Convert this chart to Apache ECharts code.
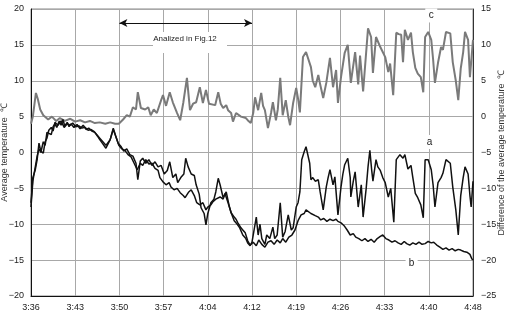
<!DOCTYPE html>
<html>
<head>
<meta charset="utf-8">
<script src="https://cdn.jsdelivr.net/npm/echarts@6/dist/echarts.min.js"></script>
<style>
html,body{margin:0;padding:0;background:#fff;}
#chart{width:508px;height:315px;}
</style>
</head>
<body>
<div id="chart"></div>
<script>
// x values: minutes elapsed since 3:36
const tickLabels = ['3:36','3:43','3:50','3:57','4:04','4:12','4:19','4:26','4:33','4:40','4:48'];

// series a: average temperature (left axis, noisy curve)
const seriesA = [
[0.0,-7.6],[0.3,-4.0],[0.7,-2.0],[1.0,-0.5],[1.3,0.5],[1.6,0.0],[2.0,1.5],[2.3,1.0],[2.6,2.8],[2.9,3.0],
[3.3,2.5],[3.6,3.6],[3.9,4.0],[4.2,3.5],[4.6,4.4],[4.9,3.8],[5.2,4.6],[5.5,3.7],[5.9,4.2],[6.2,3.6],
[6.5,4.0],[7.0,3.5],[7.5,3.9],[8.0,3.3],[8.5,3.8],[9.0,3.2],[9.4,3.4],[9.9,3.0],[10.4,2.8],[10.9,2.2],
[11.2,1.8],[11.7,1.2],[12.2,0.6],[12.5,0.8],[12.9,1.8],[13.4,3.2],[13.7,2.5],[14.2,1.3],[14.7,0.8],[15.1,0.2],
[15.6,0.5],[16.1,-0.3],[16.6,-0.5],[17.1,-1.5],[17.4,-3.8],[17.8,-1.2],[18.2,-0.8],[18.7,-1.5],[19.2,-1.0],[19.7,-1.8],
[20.2,-1.3],[20.7,-2.0],[21.2,-1.8],[21.7,-3.0],[22.2,-2.5],[22.6,-1.3],[23.1,-3.5],[23.6,-3.0],[23.9,-4.2],[24.4,-3.5],
[24.9,-3.0],[25.2,-0.8],[25.6,-2.0],[26.1,-3.0],[26.6,-3.2],[26.9,-4.5],[27.4,-5.8],[27.7,-7.7],[28.2,-8.5],[28.5,-10.1],
[28.8,-8.5],[29.3,-7.0],[29.8,-6.5],[30.1,-5.5],[30.5,-3.6],[30.8,-4.5],[31.3,-6.3],[31.8,-5.5],[32.3,-7.5],[32.6,-8.4],
[33.1,-9.5],[33.6,-10.0],[34.0,-10.5],[34.5,-11.5],[35.0,-12.0],[35.3,-12.6],[35.7,-13.0],[36.0,-12.5],[36.3,-11.0],[36.7,-9.0],
[37.0,-11.5],[37.3,-10.0],[37.6,-12.0],[38.1,-12.8],[38.4,-11.5],[38.9,-12.0],[39.4,-10.4],[39.7,-12.0],[40.1,-11.5],[40.6,-7.0],
[41.0,-11.8],[41.4,-11.0],[41.9,-8.7],[42.4,-10.8],[42.7,-10.5],[43.2,-7.6],[43.5,-7.0],[43.8,-5.5],[44.1,-1.0],[44.5,0.1],
[44.8,0.8],[45.1,0.6],[45.4,-1.5],[45.6,-3.8],[45.9,-3.5],[46.3,-4.0],[46.8,-3.8],[47.1,-5.5],[47.6,-8.0],[48.1,-4.8],
[48.4,-3.5],[48.7,-2.4],[49.2,-4.5],[49.5,-3.4],[50.0,-8.7],[50.5,-4.8],[50.8,-3.0],[51.1,-1.7],[51.6,-0.8],[52.0,-3.5],
[52.1,-6.2],[52.5,-4.0],[52.8,-2.7],[53.3,-7.6],[53.8,-4.5],[54.1,-9.0],[54.6,-5.0],[54.9,-2.0],[55.2,0.3],[55.5,-2.5],
[55.7,-4.0],[56.2,-1.0],[56.5,-2.0],[56.9,-2.5],[57.3,-3.5],[57.7,-4.2],[58.2,-6.2],[58.6,-5.0],[59.1,-9.7],[59.5,-1.0],
[60.1,-0.3],[60.6,-0.8],[60.9,-0.3],[61.4,-2.3],[61.9,-1.8],[62.2,-3.5],[62.6,-5.7],[63.0,-6.3],[63.5,-7.3],[63.9,-9.1],
[64.2,-1.0],[64.7,-1.0],[65.2,-2.4],[65.5,-4.5],[65.8,-7.6],[66.3,-4.2],[66.8,-3.5],[67.1,-2.9],[67.6,-1.0],[68.3,-1.5],
[68.7,-4.8],[69.2,-8.0],[69.6,-11.5],[70.0,-6.0],[70.4,-3.5],[70.7,-2.0],[71.2,-3.0],[71.5,-6.0],[71.7,-7.6],[72.0,-4.0]
];

// series b: average temperature (left axis, smoother curve)
const seriesB = [
[0.0,-7.0],[0.3,-3.5],[0.7,-2.4],[1.0,-1.0],[1.3,1.3],[1.6,0.2],[2.0,-0.1],[2.3,1.5],[2.6,2.0],[2.9,3.1],
[3.3,3.5],[3.6,3.0],[3.9,4.2],[4.4,3.8],[4.9,4.4],[5.4,3.5],[5.9,4.0],[6.4,3.8],[6.8,4.1],[7.3,3.6],
[7.8,3.7],[8.3,3.4],[8.8,3.5],[9.3,3.1],[9.8,3.2],[10.3,2.9],[10.8,2.4],[11.2,2.0],[11.7,1.5],[12.2,1.0],
[12.5,1.2],[12.9,1.8],[13.4,3.4],[13.8,2.3],[14.3,1.0],[14.8,0.5],[15.3,0.3],[15.8,-0.3],[16.3,-0.6],[16.8,-1.5],
[17.3,-2.4],[17.8,-1.5],[18.2,-1.8],[18.7,-1.0],[19.2,-1.6],[19.7,-1.5],[20.2,-2.2],[20.7,-2.5],[21.0,-3.5],[21.5,-4.1],
[22.0,-4.5],[22.5,-4.2],[22.8,-4.8],[23.3,-5.2],[23.8,-5.0],[24.3,-5.6],[24.8,-6.0],[25.1,-6.3],[25.4,-6.2],[25.7,-5.5],
[26.1,-5.2],[26.6,-6.0],[27.0,-7.0],[27.5,-7.3],[28.0,-7.0],[28.5,-8.0],[28.8,-7.6],[29.3,-7.3],[29.6,-6.9],[30.1,-6.5],
[30.8,-6.2],[31.3,-6.5],[31.6,-5.7],[32.1,-7.0],[32.6,-8.4],[33.1,-9.0],[33.4,-9.3],[33.7,-9.8],[34.2,-10.5],[34.5,-10.8],
[34.9,-11.2],[35.3,-12.3],[35.7,-12.9],[36.2,-12.5],[36.7,-13.0],[37.1,-12.2],[37.6,-12.8],[38.1,-13.2],[38.6,-12.5],[39.1,-12.3],
[39.6,-12.8],[40.1,-12.2],[40.6,-12.6],[41.0,-12.0],[41.5,-12.5],[42.0,-11.8],[42.5,-11.5],[43.0,-10.8],[43.5,-9.5],[44.0,-8.7],
[44.5,-8.5],[44.8,-8.0],[45.1,-8.0],[45.6,-8.5],[45.9,-8.3],[46.3,-8.8],[46.8,-9.0],[47.2,-9.4],[47.7,-9.2],[48.2,-9.6],
[48.7,-9.3],[49.2,-9.5],[49.7,-9.3],[50.0,-9.6],[50.5,-9.8],[51.0,-10.2],[51.5,-10.8],[52.0,-11.5],[52.5,-11.3],[52.9,-11.8],
[53.4,-12.0],[53.9,-12.3],[54.4,-12.0],[54.9,-12.4],[55.4,-12.1],[55.9,-12.5],[56.4,-12.0],[56.9,-11.7],[57.3,-11.5],[57.8,-12.0],
[58.3,-12.2],[58.8,-12.5],[59.3,-12.3],[59.8,-12.6],[60.3,-12.8],[60.8,-12.4],[61.2,-12.7],[61.7,-12.9],[62.2,-12.6],[62.7,-12.8],
[63.2,-12.5],[63.7,-12.8],[64.2,-12.7],[64.7,-12.4],[65.2,-12.6],[65.6,-12.5],[66.1,-12.9],[66.6,-13.2],[67.1,-13.5],[67.6,-13.3],
[68.1,-13.6],[68.6,-13.4],[69.1,-13.7],[69.6,-13.5],[70.0,-13.6],[70.5,-13.8],[71.0,-13.9],[71.5,-14.2],[71.8,-14.8],[72.0,-15.0]
];

// series c: difference of the average temperature (right axis)
const seriesC = [
[0.0,-1.0],[0.3,0.0],[0.8,3.3],[1.1,2.5],[1.5,1.0],[2.0,0.2],[2.8,-0.4],[3.4,0.0],[4.1,-0.6],[4.7,-0.2],
[5.5,-0.6],[6.4,-0.3],[7.2,-0.7],[8.0,-0.5],[8.8,-0.8],[9.6,-0.6],[10.4,-0.9],[11.2,-0.8],[12.1,-1.0],[12.9,-0.8],
[13.7,-1.0],[14.3,-1.0],[15.0,-0.4],[15.6,0.2],[16.1,0.0],[16.6,1.3],[17.1,1.0],[17.4,3.4],[17.9,1.2],[18.6,1.0],
[19.1,1.3],[19.5,0.2],[20.0,1.0],[20.5,0.5],[21.2,2.3],[21.5,3.0],[22.0,1.5],[22.6,3.4],[23.1,2.0],[23.8,0.5],
[24.3,-0.5],[24.8,1.9],[25.4,5.4],[25.9,0.9],[26.4,1.8],[26.9,2.0],[27.5,4.1],[28.0,1.9],[28.5,3.7],[29.0,1.8],
[29.3,2.0],[30.0,1.6],[30.5,3.4],[30.9,1.8],[31.3,1.2],[31.8,1.6],[32.1,0.9],[32.6,0.5],[32.9,-0.7],[33.4,0.5],
[33.7,0.6],[34.2,0.0],[34.5,0.2],[35.0,-0.2],[35.3,-0.5],[35.8,-0.9],[36.2,0.5],[36.5,2.7],[37.0,0.9],[37.5,3.3],
[37.8,1.5],[38.1,0.9],[38.6,-1.6],[39.1,0.5],[39.4,2.0],[39.9,-0.5],[40.2,1.0],[40.6,5.4],[41.0,0.2],[41.5,2.3],
[41.9,0.0],[42.2,-1.2],[42.7,1.9],[43.2,4.0],[43.5,2.5],[43.8,0.6],[44.3,8.3],[44.8,9.0],[45.1,8.9],[45.6,6.9],
[45.9,5.0],[46.3,4.1],[46.8,5.8],[47.1,4.5],[47.6,2.6],[48.1,4.7],[48.7,8.2],[49.2,4.1],[49.7,6.5],[50.0,1.9],
[50.5,5.5],[51.1,8.9],[51.6,10.0],[52.1,4.7],[52.8,9.0],[53.3,4.5],[53.6,8.5],[54.1,3.5],[54.9,12.3],[55.4,11.1],
[55.7,6.1],[56.2,11.1],[56.9,9.7],[57.3,9.0],[57.7,8.3],[58.2,6.2],[58.5,7.4],[59.0,3.0],[59.5,11.7],[59.9,11.5],
[60.3,11.4],[60.6,7.6],[60.9,12.1],[61.4,10.7],[61.9,11.7],[62.2,9.0],[62.6,6.8],[63.0,6.0],[63.5,5.5],[63.9,3.4],
[64.2,11.1],[64.7,11.8],[65.2,10.7],[65.5,8.0],[65.8,4.7],[66.3,7.5],[66.8,9.7],[67.1,9.3],[67.6,11.8],[68.3,11.6],
[68.7,7.6],[69.2,5.0],[69.6,2.3],[70.0,6.7],[70.4,9.0],[70.7,11.8],[71.2,10.7],[71.5,5.5],[72.0,10.7]
];

// annotation: analysed range (minutes) and labels
const analysedRange = [14.4, 36.0];
const analysedText = 'Analized in Fig.12';

const FONT = '"Liberation Sans", Arial, sans-serif';
const minus = v => String(v).replace('-', '\u2212');

const chart = echarts.init(document.getElementById('chart'), null, {renderer: 'canvas'});

const labelBox = (name, coord, size, fs, offset) => ({
  name: name,
  coord: coord,
  symbol: 'rect',
  symbolSize: size,
  itemStyle: {color: '#ffffff'},
  label: {show: true, position: 'inside', formatter: '{b}', color: '#222', fontSize: fs, fontFamily: FONT, offset: offset || [0, 0]}
});

chart.setOption({
  animation: false,
  backgroundColor: '#ffffff',
  textStyle: {fontFamily: FONT},
  grid: {left: 31, right: 35, top: 9, bottom: 19, containLabel: false, outerBoundsMode: 'none',
         show: true, borderColor: '#888', borderWidth: 1},
  xAxis: {
    type: 'value', min: 0, max: 72, interval: 7.2,
    axisLine: {show: true, onZero: false, lineStyle: {color: '#111', width: 1}},
    axisTick: {show: false},
    splitLine: {show: true, lineStyle: {color: '#a8a8a8', width: 1}},
    axisLabel: {fontSize: 9, color: '#222', margin: 7, fontFamily: FONT,
      formatter: v => tickLabels[Math.round(v / 7.2)] || ''}
  },
  yAxis: [
    {
      type: 'value', min: -20, max: 20, interval: 5, position: 'left',
      axisLine: {show: true, lineStyle: {color: '#111', width: 1}},
      axisTick: {show: false},
      splitLine: {show: true, lineStyle: {color: '#a8a8a8', width: 1}},
      axisLabel: {fontSize: 9, color: '#222', margin: 7, fontFamily: FONT, formatter: minus},
      name: 'Average temperature  \u2103', nameLocation: 'middle', nameGap: 22, nameRotate: 90,
      nameMoveOverlap: false,
      nameTextStyle: {fontSize: 9, color: '#333', fontFamily: FONT}
    },
    {
      type: 'value', min: -25, max: 15, interval: 5, position: 'right',
      axisLine: {show: true, lineStyle: {color: '#333', width: 1}},
      axisTick: {show: false},
      splitLine: {show: false},
      axisLabel: {fontSize: 9, color: '#222', margin: 8, fontFamily: FONT, formatter: minus},
      name: 'Difference of the average temperature  \u2103', nameLocation: 'middle', nameGap: 24, nameRotate: 90,
      nameMoveOverlap: false,
      nameTextStyle: {fontSize: 9, color: '#333', fontFamily: FONT}
    }
  ],
  series: [
    {
      name: 'c', type: 'line', yAxisIndex: 1, data: seriesC, showSymbol: false, silent: true,
      lineStyle: {color: '#7a7a7a', width: 2}, z: 2
    },
    {
      name: 'a', type: 'line', yAxisIndex: 0, data: seriesA, showSymbol: false, silent: true,
      lineStyle: {color: '#111', width: 1.5}, z: 3
    },
    {
      name: 'b', type: 'line', yAxisIndex: 0, data: seriesB, showSymbol: false, silent: true,
      lineStyle: {color: '#111', width: 1.5}, z: 3,
      markLine: {
        silent: true, symbol: ['arrow', 'arrow'], symbolSize: [6, 8],
        lineStyle: {color: '#111', width: 1, type: 'solid'},
        label: {show: false},
        data: [[{coord: [analysedRange[0], 18.05]}, {coord: [analysedRange[1], 18.05]}]]
      },
      markPoint: {
        silent: true,
        data: [
          labelBox(analysedText, [25.9, 15.33], [74, 21], 8, [-5, -4]),
          labelBox('c', [65.2, 19.1], [12, 14], 10, [0, 0]),
          labelBox('a', [64.9, 1.46], [12, 14], 10, [0, 0]),
          labelBox('b', [62.0, -15.4], [12, 14], 10, [0, 0])
        ]
      }
    }
  ]
});
</script>
</body>
</html>
